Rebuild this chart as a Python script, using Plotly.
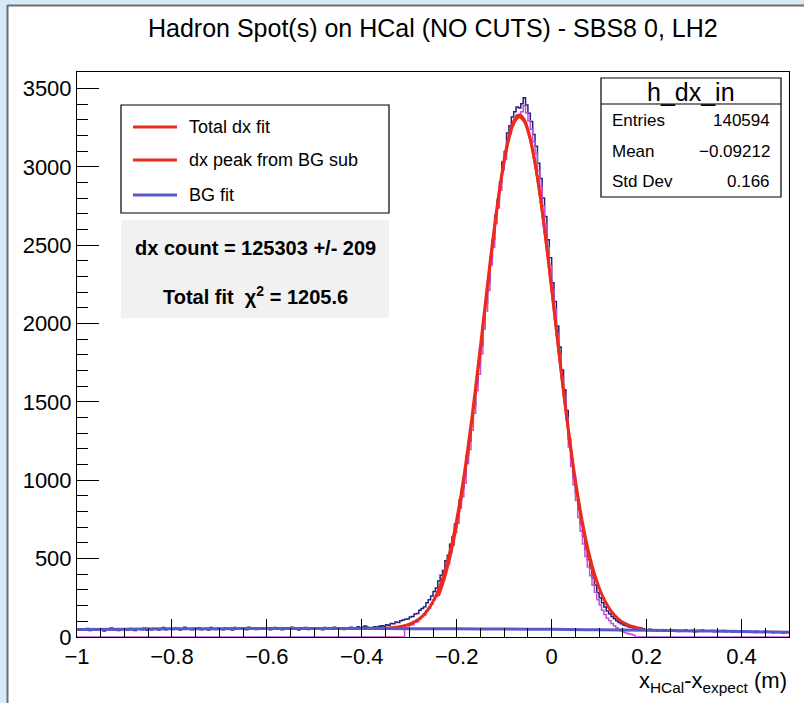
import numpy as np
import plotly.graph_objects as go

# ---------------- data ----------------
TITLE = "Hadron Spot(s) on HCal (NO CUTS) - SBS8 0, LH2"
X_TITLE = "x<sub>HCal</sub>-x<sub>expect</sub> (m)"
HIST_NAME = "h_dx_in"
STATS_LABELS = ["Entries", "Mean", "Std Dev"]
STATS_VALUES = ["140594", "\u22120.09212", "0.166"]
LEGEND_LABELS = ["Total dx fit", "dx peak from BG sub", "BG fit"]
INFO_LINES = ["<b>dx count = 125303 +/- 209</b>", "<b>Total fit  \u03c7<sup>2</sup> = 1205.6</b>"]

X_MIN, X_MAX, N_BINS = -1.0, 0.5, 300
x_tick_vals = [-1, -0.8, -0.6, -0.4, -0.2, 0, 0.2, 0.4]
x_tick_text = ["\u22121", "\u22120.8", "\u22120.6", "\u22120.4", "\u22120.2", "0", "0.2", "0.4"]
y_tick_vals = [0, 500, 1000, 1500, 2000, 2500, 3000, 3500]

# dx histogram contents (300 bins, -1 .. 0.5)
dx_counts = [
    46, 52, 43, 49, 55, 41, 47, 50, 44, 53, 48, 39, 51, 46, 57, 45, 49, 42, 52, 47,
    50, 44, 54, 48, 41, 53, 49, 46, 58, 43, 51, 47, 55, 49, 44, 52, 60, 46, 50, 54,
    48, 57, 51, 45, 53, 62, 49, 52, 46, 56, 50, 59, 47, 53, 55, 44, 61, 52, 48, 56,
    53, 47, 58, 51, 55, 44, 60, 52, 49, 57, 54, 46, 63, 50, 55, 48, 57, 53, 51, 59,
    52, 46, 56, 61, 50, 54, 47, 58, 53, 49, 62, 51, 55, 45, 57, 52, 60, 48, 54, 56,
    50, 58, 53, 47, 61, 55, 52, 49, 63, 54, 57, 51, 48, 59, 55, 62, 53, 58, 66, 57,
    64, 70, 62, 57, 61, 66, 63, 68, 72, 69, 78, 75, 86, 84, 95, 93, 104, 108, 113, 115,
    128, 131, 147, 150, 170, 182, 193, 219, 238, 262, 290, 312, 357, 394, 425, 486, 521, 592, 638, 720,
    779, 874, 948, 1036, 1160, 1249, 1372, 1481, 1625, 1730, 1859, 2014, 2131, 2262, 2425, 2538, 2690, 2788, 2902, 3031,
    3098, 3215, 3262, 3318, 3352, 3381, 3376, 3402, 3441, 3395, 3342, 3289, 3207, 3131, 3022, 2925, 2801, 2683, 2534, 2420,
    2261, 2140, 1985, 1851, 1703, 1578, 1445, 1262, 1137, 1021, 918, 809, 722, 641, 561, 494, 438, 377, 332, 284,
    251, 218, 191, 166, 149, 131, 116, 104, 93, 85, 76, 71, 66, 62, 57, 55, 50, 47, 52, 44,
    46, 50, 41, 46, 39, 44, 45, 37, 43, 40,
    38, 44, 41, 35, 42, 39, 46, 37, 40, 43, 34, 41, 38, 45, 36, 40, 37, 42, 33, 39,
    38, 35, 41, 33, 37, 40, 31, 36, 34, 39, 30, 35, 37, 32, 34, 29, 36, 31, 33, 28,
    35, 30, 32, 27, 33, 29, 31, 26, 30, 28,
]

# BG-subtracted histogram: non-zero bins start at bin 138 (x = -0.31)
bgsub_first_bin = 138
bgsub_counts = [
    60, 62, 75, 78, 94, 97, 117, 129, 140, 166, 185, 209, 237, 259, 304, 341, 372, 433, 468, 539,
    585, 667, 726, 821, 895, 983, 1107, 1196, 1319, 1428, 1572, 1677, 1806, 1963, 2080, 2211, 2374, 2487, 2639, 2737,
    2851, 2980, 3047, 3164, 3211, 3267, 3301, 3330, 3325, 3351, 3390, 3344, 3293, 3240, 3158, 3082, 2973, 2876, 2752, 2634,
    2485, 2371, 2212, 2091, 1936, 1802, 1654, 1529, 1396, 1213, 1088, 972, 871, 762, 675, 594, 514, 447, 391, 330,
    285, 237, 204, 171, 144, 119, 104, 86, 71, 59, 48, 40, 31, 26, 21, 17, 12,
]

# Total fit curve (gaussian + BG), sampled
fit_x = [
    -0.348, -0.338, -0.328, -0.318, -0.308, -0.298, -0.288, -0.278, -0.268, -0.258,
    -0.248, -0.238, -0.228, -0.218, -0.208, -0.198, -0.188, -0.178, -0.168, -0.158,
    -0.148, -0.138, -0.128, -0.118, -0.108, -0.098, -0.088, -0.078, -0.068, -0.058,
    -0.048, -0.038, -0.028, -0.018, -0.008, 0.002, 0.012, 0.022, 0.032, 0.042,
    0.052, 0.062, 0.072, 0.082, 0.092, 0.102, 0.112, 0.122, 0.132, 0.142,
    0.152, 0.162, 0.172, 0.182, 0.192,
]
fit_total_y = [
    57, 59, 62, 67, 74, 84, 98, 118, 147, 186,
    237, 304, 390, 497, 626, 782, 964, 1171, 1400, 1649,
    1909, 2174, 2434, 2677, 2896, 3079, 3216, 3302, 3330, 3301,
    3215, 3078, 2895, 2676, 2432, 2171, 1906, 1646, 1397, 1168,
    960, 778, 622, 492, 384, 298, 231, 180, 140, 111,
    90, 76, 65, 58, 53,
]
# Peak-only fit (from BG-subtracted histogram), on fit_x[11:45]
fit_peak_y = [
    262, 350, 458, 590, 748, 932, 1141, 1372, 1623, 1884, 2150, 2411, 2657, 2877, 3061, 3199, 3286,
    3316, 3288, 3203, 3066, 2884, 2664, 2420, 2160, 1894, 1633, 1383, 1153, 944, 760, 602, 470, 360,
]
# BG fit curve
bg_x = [-1.0, -0.9, -0.8, -0.7, -0.6, -0.5, -0.4, -0.3, -0.2, -0.1, 0.0, 0.1, 0.2, 0.3, 0.4, 0.5]
bg_y = [48, 50, 52, 53, 54, 54, 54, 53, 52, 51, 49, 46, 43, 39, 35, 30]

# ---------------- style ----------------
FONT = "Liberation Sans, Arial, Helvetica, sans-serif"
C_DATA = "#22227a"
C_SUB = "#c64fd8"
C_RED = "#ec2a20"
C_BG = "#5858c8"

W, H = 804, 703
L, R, T, B = 77, 15, 72, 66
PW, PH = W - L - R, H - T - B


def px(x):
    return (x - L) / PW


def py(y):
    return (H - B - y) / PH


width = (X_MAX - X_MIN) / N_BINS
edges = X_MIN + width * np.arange(N_BINS + 1)

sub_full = [0] * N_BINS
for k, v in enumerate(bgsub_counts):
    sub_full[bgsub_first_bin + k] = v

fig = go.Figure()
fig.add_trace(go.Scatter(x=edges, y=dx_counts + [dx_counts[-1]], mode="lines", line_shape="hv",
                         line=dict(color=C_DATA, width=1.5), name=HIST_NAME, showlegend=False))
fig.add_trace(go.Scatter(x=edges, y=sub_full + [sub_full[-1]], mode="lines", line_shape="hv",
                         line=dict(color=C_SUB, width=1.5), name="BG sub", showlegend=False))
fig.add_trace(go.Scatter(x=fit_x, y=fit_total_y, mode="lines", line_shape="spline",
                         line=dict(color=C_RED, width=3), name=LEGEND_LABELS[0], showlegend=False))
fig.add_trace(go.Scatter(x=fit_x[11:45], y=fit_peak_y, mode="lines", line_shape="spline",
                         line=dict(color=C_RED, width=2.5), name=LEGEND_LABELS[1], showlegend=False))
fig.add_trace(go.Scatter(x=bg_x, y=bg_y, mode="lines", line_shape="spline",
                         line=dict(color=C_BG, width=3), name=LEGEND_LABELS[2], showlegend=False))

shapes = []
annotations = []

# canvas decoration (light blue desktop + grey border)
shapes.append(dict(type="rect", xref="paper", yref="paper", x0=px(0), x1=px(7), y0=py(H), y1=py(0),
                   line=dict(width=0), fillcolor="#d6eaf7", layer="below"))
shapes.append(dict(type="rect", xref="paper", yref="paper", x0=px(0), x1=px(W), y0=py(5), y1=py(0),
                   line=dict(width=0), fillcolor="#d6eaf7", layer="below"))
shapes.append(dict(type="line", xref="paper", yref="paper", x0=px(7.5), x1=px(7.5), y0=py(H), y1=py(5),
                   line=dict(color="#6e6e6e", width=2)))
shapes.append(dict(type="line", xref="paper", yref="paper", x0=px(7.5), x1=px(W), y0=py(5.5), y1=py(5.5),
                   line=dict(color="#6e6e6e", width=2)))

# legend box
shapes.append(dict(type="rect", xref="paper", yref="paper", x0=px(121), x1=px(389), y0=py(213), y1=py(105),
                   line=dict(color="black", width=1.2), fillcolor="white"))
leg_y = [127, 160, 195]
leg_c = [C_RED, C_RED, C_BG]
for yy, cc, lab in zip(leg_y, leg_c, LEGEND_LABELS):
    shapes.append(dict(type="line", xref="paper", yref="paper", x0=px(133), x1=px(177), y0=py(yy), y1=py(yy),
                       line=dict(color=cc, width=3)))
    annotations.append(dict(x=px(187), y=py(yy), xref="paper", yref="paper", text=lab, showarrow=False,
                            xanchor="left", yanchor="middle", font=dict(family=FONT, size=18, color="black")))

# info box
shapes.append(dict(type="rect", xref="paper", yref="paper", x0=px(121), x1=px(389), y0=py(318), y1=py(220),
                   line=dict(width=0), fillcolor="#f1f1f1"))
for yy, txt in zip([248, 295], INFO_LINES):
    annotations.append(dict(x=px(255), y=py(yy), xref="paper", yref="paper", text=txt, showarrow=False,
                            xanchor="center", yanchor="middle", font=dict(family=FONT, size=20, color="black")))

# stats box
shapes.append(dict(type="rect", xref="paper", yref="paper", x0=px(601), x1=px(781), y0=py(197), y1=py(78),
                   line=dict(color="black", width=1.2), fillcolor="white"))
shapes.append(dict(type="line", xref="paper", yref="paper", x0=px(601), x1=px(781), y0=py(104), y1=py(104),
                   line=dict(color="black", width=1.2)))
annotations.append(dict(x=px(691), y=py(92), xref="paper", yref="paper", text=HIST_NAME, showarrow=False,
                        xanchor="center", yanchor="middle", font=dict(family=FONT, size=25, color="black")))
for yy, lab, val in zip([121, 151, 181], STATS_LABELS, STATS_VALUES):
    annotations.append(dict(x=px(610), y=py(yy), xref="paper", yref="paper", text=lab, showarrow=False,
                            xanchor="left", yanchor="middle", font=dict(family=FONT, size=17, color="black")))
    annotations.append(dict(x=px(772), y=py(yy), xref="paper", yref="paper", text=val, showarrow=False,
                            xanchor="right", yanchor="middle", font=dict(family=FONT, size=17, color="black")))

# title + axis title
annotations.append(dict(x=0.5, y=py(28), xref="paper", yref="paper", text=TITLE, showarrow=False,
                        xanchor="center", yanchor="middle", font=dict(family=FONT, size=25, color="black")))
annotations.append(dict(x=px(789), y=py(682), xref="paper", yref="paper", text=X_TITLE, showarrow=False,
                        xanchor="right", yanchor="middle", font=dict(family=FONT, size=22, color="black")))

fig.update_layout(
    width=W, height=H,
    margin=dict(l=L, r=R, t=T, b=B, pad=0),
    paper_bgcolor="white", plot_bgcolor="white",
    showlegend=False,
    shapes=shapes, annotations=annotations,
    font=dict(family=FONT, color="black"),
    xaxis=dict(range=[X_MIN, X_MAX], tickvals=x_tick_vals, ticktext=x_tick_text,
               ticks="inside", ticklen=18, tickwidth=1, tickcolor="black",
               minor=dict(ticks="inside", ticklen=9, dtick=0.05, tick0=-1, tickcolor="black", showgrid=False),
               showline=True, linecolor="black", linewidth=1, mirror=True,
               showgrid=False, zeroline=False, tickfont=dict(family=FONT, size=22, color="black")),
    yaxis=dict(range=[0, 3605], tickvals=y_tick_vals,
               ticks="inside", ticklen=22, tickwidth=1, tickcolor="black",
               minor=dict(ticks="inside", ticklen=11, dtick=100, tick0=0, tickcolor="black", showgrid=False),
               showline=True, linecolor="black", linewidth=1, mirror=True,
               showgrid=False, zeroline=False, tickfont=dict(family=FONT, size=22, color="black")),
)

fig.write_html("out.html", config={"displayModeBar": False},
               post_script="document.body.style.margin='0px';document.body.style.overflow='hidden';")
